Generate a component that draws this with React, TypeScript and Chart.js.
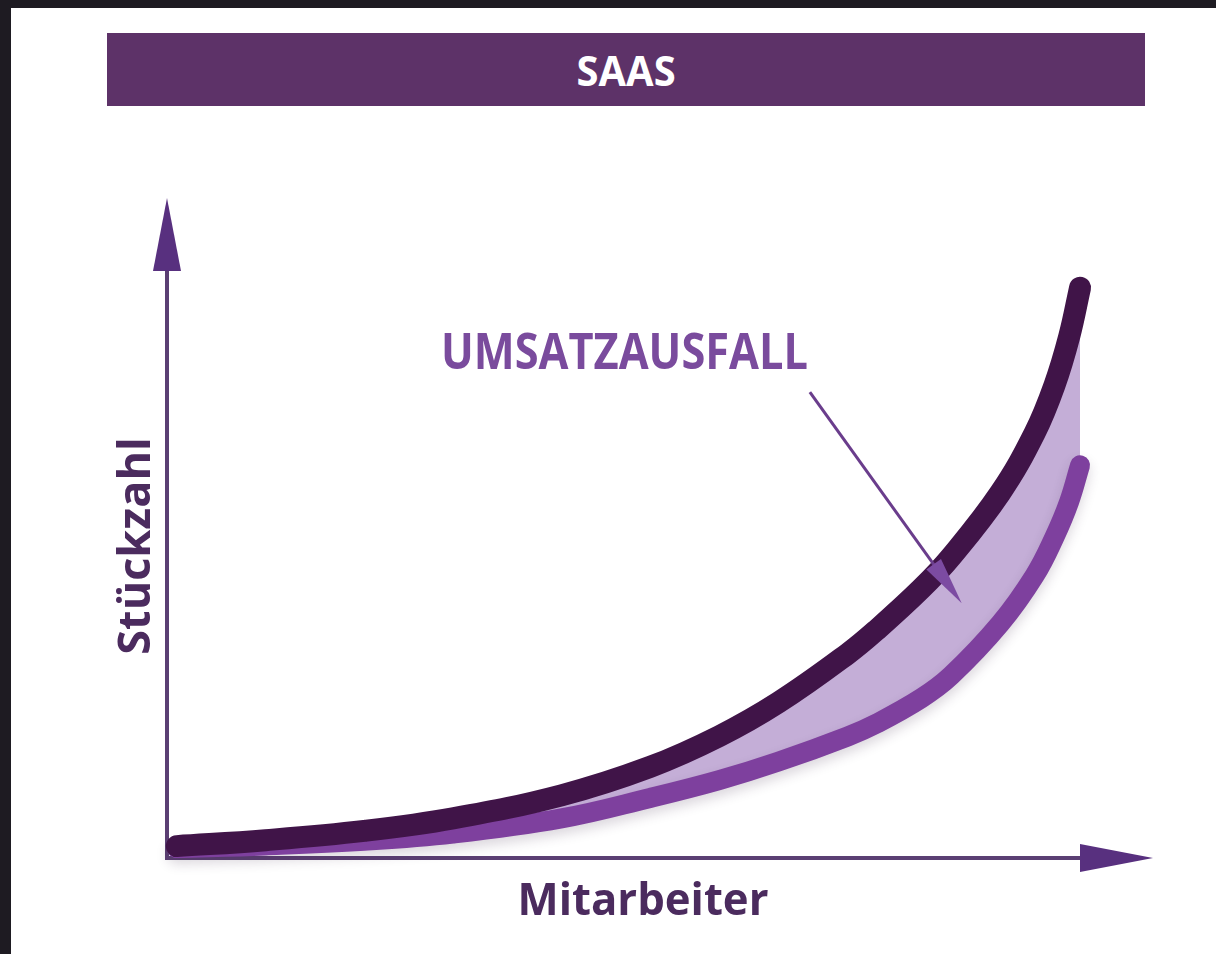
import React, { useEffect, useRef } from "react";
import { Chart, registerables } from "chart.js";

Chart.register(...registerables);

// ---- data ----
const staffX = [1, 10, 20, 29, 40, 49, 56, 62, 69, 72, 76.5, 79.5, 84.5, 88, 90, 91.5, 92.6];
const unitsPotential = [1.8, 2.7, 4.1, 6.0, 9.5, 13.8, 18.45, 23.55, 30.9, 34.6, 40.8, 45.6, 55.3, 64.4, 71.6, 79.0, 86.4];
const unitsActual = [1.5, 1.9, 2.6, 3.7, 6.0, 9.1, 11.8, 14.6, 18.4, 20.4, 24.2, 27.6, 35.5, 42.8, 48.6, 54.0, 59.5];

const titleText = "SAAS";
const xAxisLabel = "Mitarbeiter";
const yAxisLabel = "Stückzahl";
const annotationLabel = "UMSATZAUSFALL";
const annotationLabelAt = [46.4, 74.1]; // data coords (x centre, baseline y)
const annotationFrom = [65.2, 70.6];
const annotationTo = [80.6, 38.6];

const DARK = "#401448";
const LIGHT = "#7e409e";
const FILL = "#c4aed7";
const AXIS = "#5b3f73";
const HEAD = "#58307f";
const LABEL = "#4b2b5e";
const ANNOT = "#7a4b9d";
const FONT = '"Open Sans", "DejaVu Sans", sans-serif';

const decorPlugin = {
  id: "decor",
  beforeDatasetsDraw(chart: any) {
    const { ctx, chartArea } = chart;
    const { left, right, top, bottom } = chartArea;
    ctx.save();
    ctx.strokeStyle = AXIS;
    ctx.lineWidth = 4;
    ctx.lineCap = "butt";
    ctx.beginPath();
    ctx.moveTo(left, bottom + 2);
    ctx.lineTo(left, top + 70);
    ctx.stroke();
    ctx.beginPath();
    ctx.moveTo(left - 2, bottom);
    ctx.lineTo(right - 72, bottom);
    ctx.stroke();
    ctx.fillStyle = HEAD;
    ctx.beginPath();
    ctx.moveTo(left, top);
    ctx.lineTo(left - 14, top + 73);
    ctx.lineTo(left + 14, top + 73);
    ctx.closePath();
    ctx.fill();
    ctx.beginPath();
    ctx.moveTo(right, bottom);
    ctx.lineTo(right - 73, bottom - 14);
    ctx.lineTo(right - 73, bottom + 14);
    ctx.closePath();
    ctx.fill();
    ctx.restore();
  },
  beforeDatasetDraw(chart: any, args: any) {
    if (args.index === 1) {
      const ctx = chart.ctx;
      ctx.save();
      ctx.shadowColor = "rgba(60,40,70,0.18)";
      ctx.shadowBlur = 12;
      ctx.shadowOffsetY = 6;
    }
  },
  afterDatasetDraw(chart: any, args: any) {
    if (args.index === 1) {
      chart.ctx.restore();
    }
  },
  afterDatasetsDraw(chart: any) {
    const { ctx, chartArea, scales } = chart;
    const { left, right, top, bottom } = chartArea;
    const xs = scales.x;
    const ys = scales.y;
    ctx.save();
    ctx.fillStyle = LABEL;
    ctx.textAlign = "center";
    ctx.textBaseline = "alphabetic";
    ctx.font = `bold 44px ${FONT}`;
    ctx.fillText(xAxisLabel, (left + right) / 2 - 17, bottom + 57, 251);
    ctx.save();
    ctx.font = `bold 45px ${FONT}`;
    ctx.translate(left - 17, (top + bottom) / 2 + 18);
    ctx.rotate(-Math.PI / 2);
    ctx.fillText(yAxisLabel, 0, 0, 218);
    ctx.restore();

    ctx.fillStyle = ANNOT;
    ctx.font = `bold 50px ${FONT}`;
    ctx.fillText(
      annotationLabel,
      xs.getPixelForValue(annotationLabelAt[0]),
      ys.getPixelForValue(annotationLabelAt[1]),
      367
    );

    const x0 = xs.getPixelForValue(annotationFrom[0]);
    const y0 = ys.getPixelForValue(annotationFrom[1]);
    const x1 = xs.getPixelForValue(annotationTo[0]);
    const y1 = ys.getPixelForValue(annotationTo[1]);
    const dx = x1 - x0;
    const dy = y1 - y0;
    const len = Math.hypot(dx, dy);
    const ux = dx / len;
    const uy = dy / len;
    const headLen = 48;
    const headHalf = 9;
    const bx = x1 - ux * headLen;
    const by = y1 - uy * headLen;
    ctx.strokeStyle = "#6a3d8c";
    ctx.lineWidth = 3;
    ctx.beginPath();
    ctx.moveTo(x0, y0);
    ctx.lineTo(bx + ux * 4, by + uy * 4);
    ctx.stroke();
    ctx.fillStyle = "#7c4ba2";
    ctx.beginPath();
    ctx.moveTo(x1, y1);
    ctx.lineTo(bx - uy * headHalf, by + ux * headHalf);
    ctx.lineTo(bx + uy * headHalf, by - ux * headHalf);
    ctx.closePath();
    ctx.fill();
    ctx.restore();
  },
};

export default function App() {
  const canvasRef = useRef<HTMLCanvasElement | null>(null);

  useEffect(() => {
    if (!canvasRef.current) return;
    const potential = staffX.map((x, i) => ({ x, y: unitsPotential[i] }));
    const actual = staffX.map((x, i) => ({ x, y: unitsActual[i] }));
    const chart = new Chart(canvasRef.current, {
      type: "line",
      data: {
        datasets: [
          {
            label: "Potenzial",
            data: potential,
            borderColor: DARK,
            borderWidth: 22,
            borderCapStyle: "round",
            borderJoinStyle: "round",
            tension: 0.4,
            pointRadius: 0,
            fill: "+1",
            backgroundColor: FILL,
            clip: false,
          } as any,
          {
            label: "Ist",
            data: actual,
            borderColor: LIGHT,
            borderWidth: 20,
            borderCapStyle: "round",
            borderJoinStyle: "round",
            tension: 0.4,
            pointRadius: 0,
            fill: false,
            clip: false,
          } as any,
        ],
      },
      options: {
        animation: false,
        responsive: false,
        maintainAspectRatio: false,
        events: [],
        layout: { padding: { left: 167, top: 198, right: 63, bottom: 96 } },
        scales: {
          x: { type: "linear", min: 0, max: 100, display: false },
          y: { type: "linear", min: 0, max: 100, display: false },
        },
        plugins: {
          legend: { display: false },
          tooltip: { enabled: false },
          title: { display: false },
          filler: { drawTime: "beforeDatasetsDraw" },
        } as any,
      },
      plugins: [decorPlugin],
    });
    return () => chart.destroy();
  }, []);

  return (
    <div
      style={{
        position: "fixed",
        left: 0,
        top: 0,
        width: 1216,
        height: 954,
        background: "#1e1b22",
        overflow: "hidden",
      }}
    >
      <div
        style={{
          position: "absolute",
          left: 11,
          top: 8,
          right: 0,
          bottom: 0,
          background: "#ffffff",
        }}
      />
      <div
        style={{
          position: "absolute",
          left: 107,
          top: 33,
          width: 1038,
          height: 73,
          background: "#5d3268",
          color: "#ffffff",
          display: "flex",
          alignItems: "center",
          justifyContent: "center",
          fontFamily: FONT,
          fontWeight: 700,
          fontSize: 42,
          lineHeight: 1,
        }}
      >
        <span style={{ display: "inline-block", transform: "scaleX(0.95)" }}>{titleText}</span>
      </div>
      <canvas
        ref={canvasRef}
        width={1216}
        height={954}
        style={{ position: "absolute", left: 0, top: 0, width: 1216, height: 954 }}
      />
    </div>
  );
}
